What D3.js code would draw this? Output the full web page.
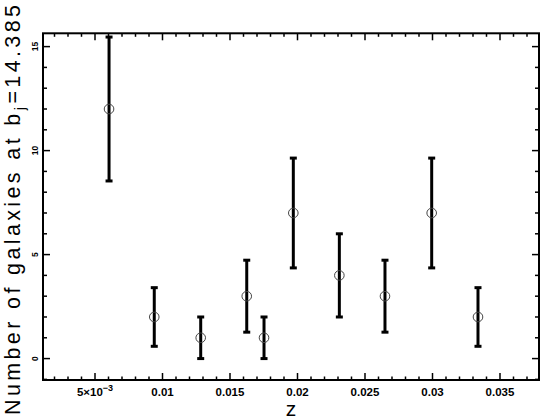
<!DOCTYPE html>
<html>
<head>
<meta charset="utf-8" />
<title></title>
<style>
  body { margin: 0; background: #fff; }
  svg { display: block; }
  .lab { font-family: "Liberation Sans", Arial, sans-serif; font-weight: bold; fill: #000; }
  .ttl { font-family: "Liberation Sans", Arial, sans-serif; fill: #000; }
</style>
</head>
<body>
<div id="chart"></div>
<script src="https://cdnjs.cloudflare.com/ajax/libs/d3/7.8.5/d3.min.js"></script>
<script>
// redshift bins and counts
var zVals  = [0.00604, 0.00939, 0.01283, 0.01624, 0.01752, 0.01969, 0.0231, 0.02648, 0.02994, 0.03337];
var counts = [12, 2, 1, 3, 1, 7, 4, 3, 7, 2];
var errLo  = [8.54, 0.59, 0, 1.27, 0, 4.36, 2.0, 1.27, 4.36, 0.59];
var errHi  = [15.46, 3.41, 2, 4.73, 2, 9.64, 6.0, 4.73, 9.64, 3.41];

var xTicks = [0.005, 0.01, 0.015, 0.02, 0.025, 0.03, 0.035];
var xTickLabels = ["5\u00d710", "0.01", "0.015", "0.02", "0.025", "0.03", "0.035"];
var yTicks = [0, 5, 10, 15];

var W = 545, H = 420;
var pL = 43, pR = 539, pT = 33.3, pB = 380;

var x = d3.scaleLinear().domain([0.001148, 0.037889]).range([pL, pR]);
var y = d3.scaleLinear().domain([-1.03, 15.64]).range([pB, pT]);

var svg = d3.select("#chart").append("svg")
    .attr("width", W)
    .attr("height", H);

// minor ticks
var xMinor = d3.range(0.002, 0.0379, 0.001).filter(function (d) {
    return xTicks.every(function (t) { return Math.abs(t - d) > 1e-6; });
});
var yMinor = d3.range(-1, 16, 1).filter(function (d) { return d % 5 !== 0 && y(d) < pB && y(d) > pT; });

var axes = svg.append("g").attr("stroke", "#000").attr("stroke-width", 1.5);

// bottom + top ticks (inward)
function xTickLines(vals, len) {
    axes.selectAll(null).data(vals).join("line")
        .attr("x1", d => x(d)).attr("x2", d => x(d))
        .attr("y1", pB).attr("y2", pB - len);
    axes.selectAll(null).data(vals).join("line")
        .attr("x1", d => x(d)).attr("x2", d => x(d))
        .attr("y1", pT).attr("y2", pT + len);
}
xTickLines(xTicks, 7);
xTickLines(xMinor, 3.5);

function yTickLines(vals, len) {
    axes.selectAll(null).data(vals).join("line")
        .attr("y1", d => y(d)).attr("y2", d => y(d))
        .attr("x1", pL).attr("x2", pL + len);
    axes.selectAll(null).data(vals).join("line")
        .attr("y1", d => y(d)).attr("y2", d => y(d))
        .attr("x1", pR).attr("x2", pR - len);
}
yTickLines(yTicks, 7);
yTickLines(yMinor, 4);

// frame
svg.append("rect")
    .attr("x", pL).attr("y", pT)
    .attr("width", pR - pL).attr("height", pB - pT)
    .attr("fill", "none").attr("stroke", "#000").attr("stroke-width", 2);

// x tick labels
var xl = svg.selectAll(".xl").data(xTicks).join("text")
    .attr("class", "lab")
    .attr("x", d => x(d))
    .attr("y", 395.5)
    .attr("text-anchor", "middle")
    .style("font-size", "11.5px");
xl.append("tspan").text((d, i) => xTickLabels[i]);
xl.filter((d, i) => i === 0).append("tspan")
    .attr("dy", -4.5).style("font-size", "9px").text("\u22123");

// y tick labels (rotated)
svg.selectAll(".yl").data(yTicks).join("text")
    .attr("class", "lab")
    .attr("transform", d => "translate(37.5," + y(d) + ") rotate(-90)")
    .attr("text-anchor", "middle")
    .style("font-size", "8.5px")
    .text(d => d);

// error bars
var pts = svg.append("g");
var capW = 3.5;
pts.selectAll(".eb").data(zVals).join("line")
    .attr("x1", d => x(d)).attr("x2", d => x(d))
    .attr("y1", (d, i) => y(errLo[i])).attr("y2", (d, i) => y(errHi[i]))
    .attr("stroke", "#000").attr("stroke-width", 3);
pts.selectAll(".cl").data(zVals).join("line")
    .attr("x1", d => x(d) - capW).attr("x2", d => x(d) + capW)
    .attr("y1", (d, i) => y(errLo[i])).attr("y2", (d, i) => y(errLo[i]))
    .attr("stroke", "#000").attr("stroke-width", 3);
pts.selectAll(".ch").data(zVals).join("line")
    .attr("x1", d => x(d) - capW).attr("x2", d => x(d) + capW)
    .attr("y1", (d, i) => y(errHi[i])).attr("y2", (d, i) => y(errHi[i]))
    .attr("stroke", "#000").attr("stroke-width", 3);
pts.selectAll("circle").data(zVals).join("circle")
    .attr("cx", d => x(d))
    .attr("cy", (d, i) => y(counts[i]))
    .attr("r", 4.8)
    .attr("fill", "none")
    .attr("stroke", "#444")
    .attr("stroke-width", 1);

// axis titles
svg.append("text")
    .attr("class", "ttl")
    .attr("x", (pL + pR) / 2)
    .attr("y", 416)
    .attr("text-anchor", "middle")
    .style("font-size", "21px")
    .text("z");

var yt = svg.append("text")
    .attr("class", "ttl")
    .attr("transform", "translate(19.5,415) rotate(-90)")
    .attr("text-anchor", "start")
    .attr("textLength", 410)
    .attr("lengthAdjust", "spacing")
    .style("font-size", "21.5px");
yt.append("tspan").text("Number of galaxies at b");
yt.append("tspan").attr("dy", 5).style("font-size", "15px").text("j");
yt.append("tspan").attr("dy", -5).text("=14.385");
</script>
</body>
</html>
